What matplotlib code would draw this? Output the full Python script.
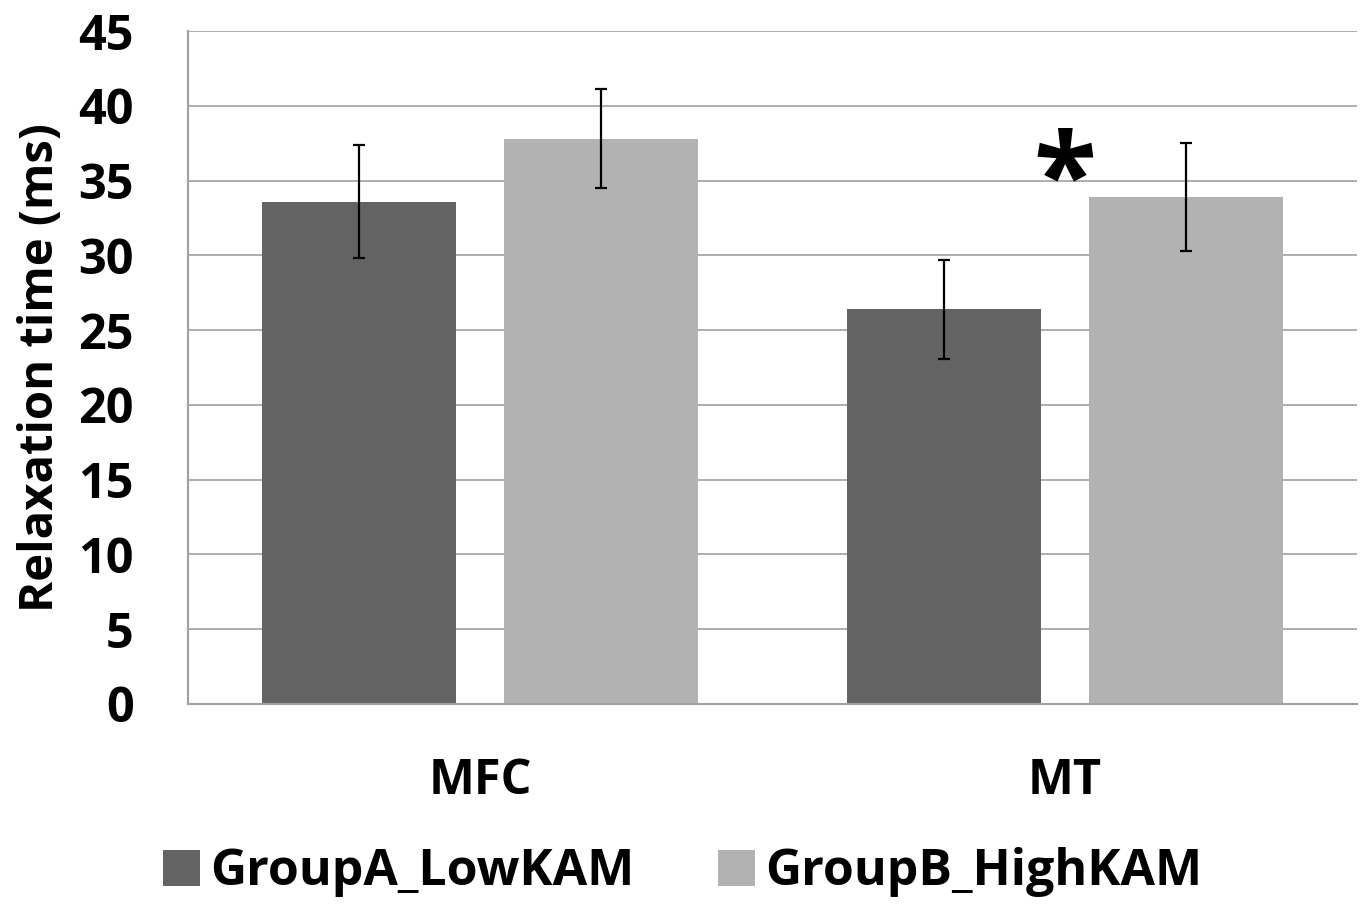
import matplotlib
matplotlib.use("Agg")
import matplotlib.pyplot as plt
from matplotlib.patches import Patch
import numpy as np

categories = ["MFC", "MT"]
groups = ["GroupA_LowKAM", "GroupB_HighKAM"]
group_a = [33.6, 26.4]
group_a_err = [3.8, 3.3]
group_b = [37.8, 33.9]
group_b_err = [3.3, 3.6]
yticks = [0, 5, 10, 15, 20, 25, 30, 35, 40, 45]
colors = ["#636363", "#b2b2b2"]

plt.rcParams['font.family'] = ['Open Sans', 'DejaVu Sans']
plt.rcParams['font.weight'] = 'bold'

fig = plt.figure(figsize=(13.65, 9.05), dpi=100)
ax = fig.add_axes([0.1377, 0.2221, 0.8564, 0.7436])

x = np.arange(len(categories))
w = 0.332
off = 0.207
ax.bar(x - off, group_a, w, color=colors[0], zorder=2)
ax.bar(x + off, group_b, w, color=colors[1], zorder=2)
ax.errorbar(x - off, group_a, yerr=group_a_err, fmt='none', ecolor='black',
            elinewidth=1.6, capsize=4.5, capthick=1.6, zorder=3)
ax.errorbar(x + off, group_b, yerr=group_b_err, fmt='none', ecolor='black',
            elinewidth=1.6, capsize=4.5, capthick=1.6, zorder=3)

ax.set_xlim(-0.5, 1.5)
ax.set_ylim(0, 45)
ax.set_yticks(yticks)
ax.set_yticklabels([str(t) for t in yticks], fontsize=35, fontweight='bold')
ax.set_xticks(x)
ax.set_xticklabels(categories, fontsize=35, fontweight='bold')
ax.tick_params(axis='both', length=0)
ax.tick_params(axis='y', pad=39)
ax.tick_params(axis='x', pad=38)

ax.yaxis.grid(True, color='#a0a0a0', linewidth=1.2, zorder=0)
ax.set_axisbelow(True)
for s in ['top', 'right']:
    ax.spines[s].set_visible(False)
for s in ['left', 'bottom']:
    ax.spines[s].set_color('#a0a0a0')
    ax.spines[s].set_linewidth(1.5)

ax.set_ylabel("Relaxation time (ms)", fontsize=34, fontweight='bold', labelpad=10)

ax.text(1.0, 34.7, "*", fontsize=83, fontweight='bold', ha='center', va='center')

handles = [Patch(facecolor=colors[0]), Patch(facecolor=colors[1])]
fig.legend(handles, groups, loc='center', bbox_to_anchor=(0.5, 0.036), ncol=2,
           frameon=False, prop={'weight': 'bold', 'size': 36},
           handlelength=0.74, handleheight=0.74, handletextpad=0.2, columnspacing=1.68)

fig.savefig("out.png", dpi=100)
